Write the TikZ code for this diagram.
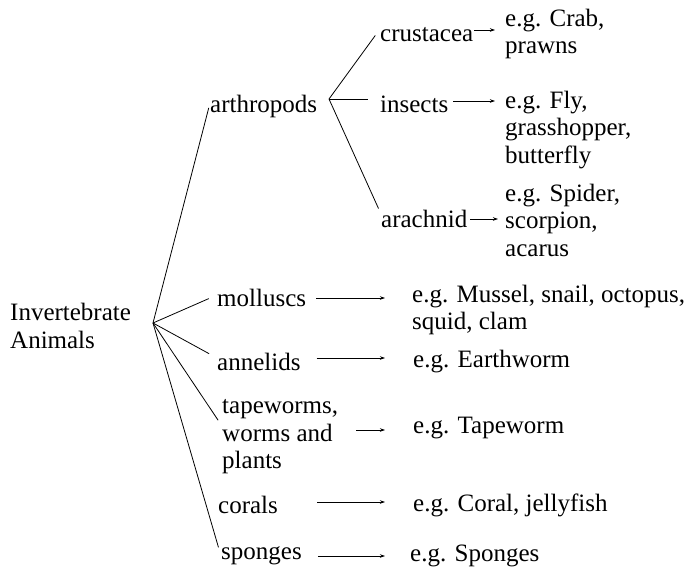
\documentclass[tikz,border=0pt]{standalone}
\usepackage{fontspec}
\setmainfont{Liberation Serif}
\usepackage{tikz}
\usetikzlibrary{positioning,arrows.meta,calc}

\begin{document}
\begin{tikzpicture}[>={Stealth[length=5pt,width=3.5pt]}, x=1pt, y=-1pt,
    txt/.style={font=\fontsize{25}{27.5}\selectfont, align=left, inner sep=0pt, anchor=west},
    branch/.style={line width=0.8pt},
    arr/.style={->, line width=0.8pt}]
    \useasboundingbox (0,0) rectangle (691,576);

    % Root and first level
    \node[txt] (inv) at (10,326) {Invertebrate\\Animals};
    \coordinate (root) at (153,323);
    \node[txt] (arth) at (210,106) {arthropods};
    \node[txt] (moll) at (217,298) {molluscs};
    \node[txt] (ann) at (217,362) {annelids};
    \node[txt] (tape) at (222,437) {tapeworms,\\worms and\\plants};
    \node[txt] (cor) at (218,505) {corals};
    \node[txt] (spo) at (221,556) {sponges};

    % Arthropod classes
    \coordinate (aroot) at (329,99);
    \node[txt] (crus) at (380,35) {crustacea};
    \node[txt] (ins) at (380,104) {insects};
    \node[txt] (arach) at (381,219) {arachnid};

    % Examples
    \node[txt] (crab) at (505,34) {e.g. Crab,\\prawns};
    \node[txt] (fly) at (505,130) {e.g. Fly,\\grasshopper,\\butterfly};
    \node[txt] (spider) at (505,220) {e.g. Spider,\\scorpion,\\acarus};
    \node[txt] (mussel) at (412,310) {e.g. Mussel, snail, octopus,\\squid, clam};
    \node[txt] (earth) at (413,362) {e.g. Earthworm};
    \node[txt] (tapeex) at (413,428) {e.g. Tapeworm};
    \node[txt] (coral) at (413,505) {e.g. Coral, jellyfish};
    \node[txt] (sponge) at (410,556) {e.g. Sponges};

    % Branches
    \draw[branch, shorten >=5pt] (root) -- ([yshift=3pt]arth.west);
    \draw[branch, shorten >=9pt] (root) -- ([yshift=3pt]moll.west);
    \draw[branch, shorten >=9pt] (root) -- ([yshift=4pt]ann.west);
    \draw[branch, shorten >=7pt] (root) -- ([yshift=11pt]tape.west);
    \draw[branch, shorten >=9pt] (root) -- (spo.west);
    \draw[branch, shorten >=8pt] (aroot) -- ([yshift=6pt]crus.west);
    \draw[branch, shorten >=12pt] (aroot) -- ([yshift=5pt]ins.west);
    \draw[branch, shorten >=6pt] (aroot) -- ([yshift=5pt]arach.west);

    % Arrows to examples
    \draw[arr, shorten <=1pt, shorten >=10pt] ([yshift=5pt]crus.east) -- ([yshift=5pt]crus.east -| crab.west);
    \draw[arr, shorten <=5pt, shorten >=10pt] ([yshift=3pt]ins.east) -- ([yshift=3pt]ins.east -| fly.west);
    \draw[arr, shorten <=3pt, shorten >=7pt] (arach.east) -- (arach.east -| spider.west);
    \draw[arr, shorten <=10pt, shorten >=27pt] (moll.east) -- (moll.east -| mussel.west);
    \draw[arr, shorten <=16pt, shorten >=28pt] ([yshift=4pt]ann.east) -- ([yshift=4pt]ann.east -| earth.west);
    \draw[arr, shorten <=18pt, shorten >=28pt] ([yshift=7pt]tape.east) -- ([yshift=7pt]tape.east -| tapeex.west);
    \draw[arr, shorten <=39pt, shorten >=28pt] ([yshift=3pt]cor.east) -- ([yshift=3pt]cor.east -| coral.west);
    \draw[arr, shorten <=16pt, shorten >=25pt] (spo.east) -- (spo.east -| sponge.west);
\end{tikzpicture}
\end{document}
